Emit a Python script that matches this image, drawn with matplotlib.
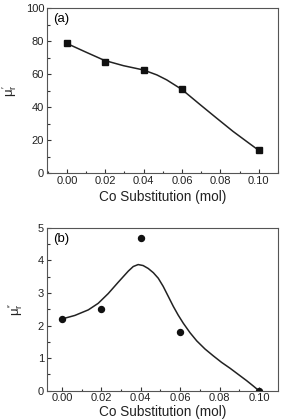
import matplotlib
matplotlib.use("Agg")
import matplotlib.pyplot as plt
from matplotlib.ticker import MultipleLocator

plt.rcParams['font.family'] = ['Liberation Sans', 'DejaVu Sans']
plt.rcParams['mathtext.fontset'] = 'custom'
plt.rcParams['mathtext.rm'] = 'Liberation Sans'
plt.rcParams['mathtext.it'] = 'Liberation Sans'

co = [0.00, 0.02, 0.04, 0.06, 0.10]
mu_real = [78.7, 67.6, 62.7, 50.8, 13.8]
mu_imag = [2.2, 2.5, 4.69, 1.79, 0.0]

fit_real_x = [0.0, 0.0096, 0.0196, 0.0295, 0.0399, 0.0469, 0.052,
              0.0599, 0.0694, 0.078, 0.0866, 0.0953, 0.10]
fit_real_y = [78.7, 73.6, 68.4, 65.2, 62.6, 59.6, 56.6,
              50.8, 41.6, 33.4, 25.3, 17.8, 13.8]

fit_imag_x = [0.0, 0.0066, 0.0134, 0.0184, 0.0235, 0.0286, 0.0337, 0.0362,
              0.0387, 0.0412, 0.0438, 0.0464, 0.0489, 0.0514, 0.0540, 0.0565,
              0.0590, 0.0616, 0.0650, 0.0684, 0.0726, 0.0768, 0.0810, 0.0853,
              0.0895, 0.0937, 0.0970, 0.1000]
fit_imag_y = [2.2, 2.31, 2.48, 2.68, 2.98, 3.33, 3.67, 3.81,
              3.87, 3.84, 3.75, 3.62, 3.45, 3.2, 2.89, 2.59,
              2.32, 2.07, 1.78, 1.53, 1.28, 1.07, 0.87, 0.69,
              0.5, 0.31, 0.15, 0.0]

xticks = [0.00, 0.02, 0.04, 0.06, 0.08, 0.10]

fig = plt.figure(figsize=(2.81, 4.19), dpi=100)
ax1 = fig.add_axes([0.167, 0.587, 0.822, 0.393])
ax2 = fig.add_axes([0.167, 0.0675, 0.822, 0.389])

fs = 8
for ax in (ax1, ax2):
    ax.tick_params(which='both', direction='in', top=False, right=False,
                   labelsize=fs, width=0.8, pad=2, colors='#333333',
                   labelcolor='#222222')
    ax.tick_params(which='major', length=3)
    ax.tick_params(which='minor', length=1.8)
    ax.xaxis.set_minor_locator(MultipleLocator(0.01))
    ax.set_xticks(xticks)
    ax.set_xticklabels([f"{t:.2f}" for t in xticks])
    for s in ax.spines.values():
        s.set_color('#555555')
        s.set_linewidth(0.8)

ax1.set_xlabel('Co Substitution (mol)', fontsize=9.8, labelpad=3, color='#222222')
ax2.set_xlabel('Co Substitution (mol)', fontsize=9.8, labelpad=1, color='#222222')

ax1.plot(fit_real_x, fit_real_y, color='#222222', lw=1.1, solid_joinstyle='round')
ax1.plot(co, mu_real, 's', color='#111111', ms=4)
ax1.set_xlim(-0.0104, 0.11)
ax1.set_ylim(0, 100)
ax1.yaxis.set_major_locator(MultipleLocator(20))
ax1.yaxis.set_minor_locator(MultipleLocator(10))
ax1.set_ylabel(r"$\mu_r'$", fontsize=9.5, labelpad=5, color='#222222')
ax1.text(0.025, 0.97, '(a)', transform=ax1.transAxes, fontsize=9.5, va='top', ha='left')

ax2.plot(fit_imag_x, fit_imag_y, color='#222222', lw=1.1, solid_joinstyle='round')
ax2.plot(co, mu_imag, 'o', color='#111111', ms=4.3)
ax2.set_xlim(-0.0076, 0.1096)
ax2.set_ylim(0, 5)
ax2.yaxis.set_major_locator(MultipleLocator(1))
ax2.yaxis.set_minor_locator(MultipleLocator(0.5))
ax2.set_ylabel(r"$\mu_r''$", fontsize=9.5, labelpad=9, color='#222222')
ax2.text(0.025, 0.97, '(b)', transform=ax2.transAxes, fontsize=9.5, va='top', ha='left')

fig.savefig('out.png', dpi=100)
